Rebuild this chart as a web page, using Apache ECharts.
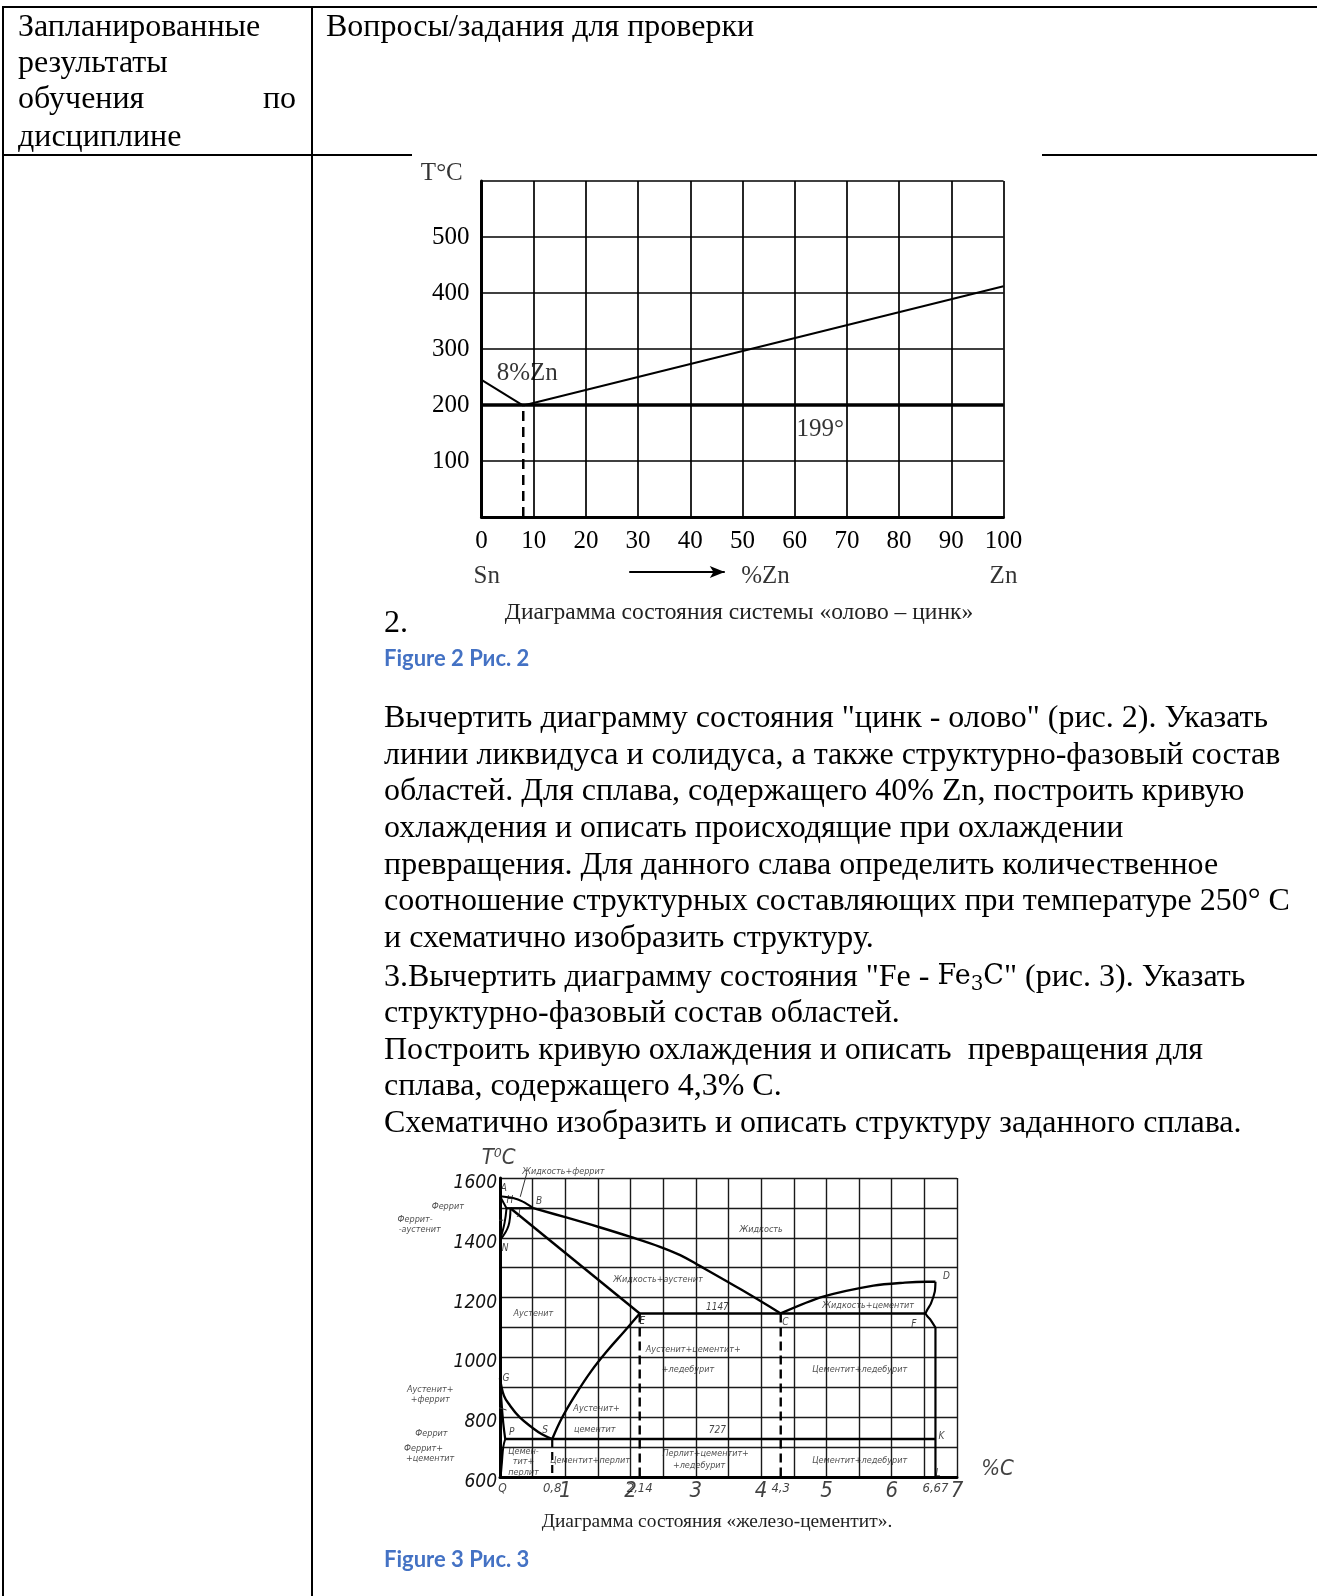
<!DOCTYPE html>
<html><head><meta charset="utf-8">
<script src="https://cdn.jsdelivr.net/npm/echarts@6/dist/echarts.min.js"></script>
<style>html,body{margin:0;padding:0;background:#fff}#c{width:1317px;height:1596px}</style>
</head><body><div id="c"></div>
<script>
// ---------- Sn–Zn diagram (рис. 2) ----------
const snZnXTicks = [0,10,20,30,40,50,60,70,80,90,100];
const snZnYTicks = [100,200,300,400,500];
const snZnLiquidusLeft  = [[0,245],[8,199]];
const snZnLiquidusRight = [[8,199],[100,412]];
const snZnEutectic      = [[0,200],[100,200]];
const snZnEutecticDash  = [[8,0],[8,199]];
const snZnArrow         = [[28.3,-98],[46.6,-98]];
const snZnLabels = [ // text, %Zn, T
  ['8%Zn', 8.75, 256], ['199°', 64.9, 156], ['T°C', -7.6, 614],
  ['Sn', 1.0, -107], ['%Zn', 54.4, -107], ['Zn', 100, -107]
];

// ---------- Fe–Fe3C diagram (рис. 3) ----------
const feXTickValues = [0.8,1,2,2.14,3,4,4.3,5,6,6.67,7];
const feXTickLabels = ['0,8','1','2','2,14','3','4','4,3','5','6','6,67','7'];
const feYTicks = [600,800,1000,1200,1400,1600];
const feAB  = [[0,1539],[0.2,1533],[0.35,1521],[0.51,1499]];
const feBC  = [[0.51,1499],[1.0,1469],[1.5,1437],[2.0,1403],[2.45,1370],[2.76,1342],[3.06,1306],[3.7,1226],[4.3,1147]];
const feCD  = [[4.3,1147],[4.95,1203],[5.72,1240],[6.2,1250],[6.53,1253],[6.67,1253]];
const feDF  = [[6.67,1253],[6.66,1220],[6.6,1180],[6.52,1147],[6.6,1124],[6.67,1100]];
const feFL  = [[6.67,1100],[6.67,600]];
const feAH  = [[0,1539],[0.1,1499]];
const feHB  = [[0.1,1499],[0.51,1499]];
const feHN  = [[0.1,1499],[0.07,1450],[0,1392]];
const feJN  = [[0.16,1499],[0.13,1440],[0,1392]];
const feJE  = [[0.16,1499],[2.14,1147]];
const feECF = [[2.14,1147],[6.52,1147]];
const feES  = [[2.14,1147],[1.9,1086],[1.65,1024],[1.4,955],[1.15,873],[0.95,798],[0.8,727]];
const feGS  = [[0,930],[0.06,872],[0.15,840],[0.3,800],[0.5,764],[0.65,742],[0.8,727]];
const feGP  = [[0,930],[0.02,860],[0.05,780],[0.08,727]];
const fePSK = [[0.08,727],[6.67,727]];
const fePQ  = [[0.08,727],[0.05,700],[0.03,650],[0.01,600]];
const feDashS = [[0.8,727],[0.8,600]];
const feDashE = [[2.14,1147],[2.14,600]];
const feDashC = [[4.3,1147],[4.3,600]];
const feLeaders = [
  [[0.41,1616],[0.31,1537]],
  [[-0.46,1504],[-0.03,1487]],
  [[-0.82,1454],[0.05,1459]],
  [[-0.59,869],[0.1,824]],
  [[-0.69,740],[-0.03,724]],
  [[-0.56,674],[-0.03,646]]
];
const feRegionLabels = [ // text, %C, T
  ['Жидкость+феррит',0.97,1622], ['Феррит',-0.8,1504], ['Феррит-',-1.3,1460], ['-аустенит',-1.23,1426],
  ['Жидкость',4.0,1428], ['Жидкость+аустенит',2.42,1261], ['Аустенит',0.51,1145],
  ['Аустенит+цементит+',2.96,1025], ['+ледебурит',2.88,958], ['Жидкость+цементит',5.64,1173],
  ['Цементит+ледебурит',5.51,960], ['Аустенит+',1.48,830], ['цементит',1.45,757],
  ['Аустенит+',-1.07,891], ['+феррит',-1.07,858], ['Феррит',-1.05,746],
  ['Феррит+',-1.17,696], ['+цементит',-1.07,663],
  ['Цемен-',0.36,685], ['тит+',0.36,652], ['перлит',0.36,615],
  ['Цементит+перлит',1.38,653], ['Перлит+цементит+',3.15,679], ['+ледебурит',3.05,638],
  ['Цементит+ледебурит',5.51,654]
];
const fePointLabels = [
  ['A',0.06,1566], ['H',0.15,1526], ['J',0.3,1484], ['B',0.6,1521], ['N',0.08,1365],
  ['E',2.18,1119], ['C',4.37,1116], ['D',6.84,1270], ['F',6.34,1112], ['G',0.09,930],
  ['P',0.18,749], ['S',0.69,755], ['K',6.76,735], ['L',6.71,612],
  ['1147',3.33,1166], ['727',3.33,757]
];
const feOriginLabel = [['Q',0.04,560]];

// ---------- page text ----------
const headerLeft = ['Запланированные','результаты','обучения','дисциплине'];
const headerRight = 'Вопросы/задания для проверки';
const bodyLines = [
  'Вычертить диаграмму состояния "цинк - олово" (рис. 2). Указать',
  'линии ликвидуса и солидуса, а также структурно-фазовый состав',
  'областей. Для сплава, содержащего 40% Zn, построить кривую',
  'охлаждения и описать происходящие при охлаждении',
  'превращения. Для данного слава определить количественное',
  'соотношение структурных составляющих при температуре 250° С',
  'и схематично изобразить структуру.',
  '3.Вычертить диаграмму состояния "Fe - {f|Fe}{s|3}{f|C}" (рис. 3). Указать',
  'структурно-фазовый состав областей.',
  'Построить кривую охлаждения и описать  превращения для',
  'сплава, содержащего 4,3% С.',
  'Схематично изобразить и описать структуру заданного сплава.'
];
const bodyY = [718.6,755.2,791.8,828.5,865.1,901.8,938.4,977.1,1013.7,1050.4,1087.0,1123.6];

const serif = '"Liberation Serif","Times New Roman",serif';
const hand = '"Liberation Sans Narrow","DejaVu Sans Condensed",sans-serif';
const tiny = '"DejaVu Sans Condensed","DejaVu Sans",sans-serif';

function line(data, gi, w, extra) {
  return Object.assign({type:'line', data, xAxisIndex:gi, yAxisIndex:gi, symbol:'none', silent:true,
    clip:false, animation:false, z:5, lineStyle:{color:'#000', width:w}}, extra || {});
}
function labels(list, gi, lbl) {
  return {type:'scatter', xAxisIndex:gi, yAxisIndex:gi, symbolSize:1, clip:false, silent:true, animation:false,
    itemStyle:{color:'transparent'}, z:6,
    data: list.map(([t,x,y]) => ({name:t, value:[x,y]})),
    label: Object.assign({show:true, position:'inside', formatter: p => p.name, color:'#000'}, lbl)};
}

const series = [
  line(snZnLiquidusLeft,0,2),
  line(snZnLiquidusRight,0,2),
  line(snZnEutectic,0,3.5),
  line(snZnEutecticDash,0,2.5,{lineStyle:{color:'#000',width:2.5,type:[10,6]}}),
  line(snZnArrow.map((p,i) => i === snZnArrow.length - 1
      ? {value:p, symbol:'arrow', symbolSize:[9,15], symbolRotate:-90}
      : {value:p}), 0, 2,
    {showSymbol:true, itemStyle:{color:'#000'}}),
  labels(snZnLabels,0,{fontFamily:serif, fontSize:25}),

  line(feAB,1,2.2,{smooth:0.3}), line(feBC,1,2.4,{smooth:0.4}), line(feCD,1,2.4,{smooth:0.3}),
  line(feDF,1,2.2,{smooth:0.2}), line(feFL,1,2.2), line(feAH,1,2),
  line(feHB,1,2.2), line(feHN,1,2,{smooth:0.4}), line(feJN,1,2,{smooth:0.4}),
  line(feJE,1,2.4), line(feECF,1,2.4), line(feES,1,2.4,{smooth:0.4}),
  line(feGS,1,2.4,{smooth:0.4}), line(feGP,1,2.2,{smooth:0.4}), line(fePSK,1,2.6),
  line(fePQ,1,2,{smooth:0.4}),
  line(feDashS,1,2.2,{lineStyle:{color:'#000',width:2.2,type:[8,5]}}),
  line(feDashE,1,2.4,{lineStyle:{color:'#000',width:2.4,type:[9,5]}}),
  line(feDashC,1,2.4,{lineStyle:{color:'#000',width:2.4,type:[9,5]}}),
  ...feLeaders.map(d => line(d,1,1,{lineStyle:{color:'#333',width:1}})),
  labels(feRegionLabels,1,{fontFamily:tiny, fontStyle:'italic', fontSize:9, color:'#222'}),
  labels(fePointLabels,1,{fontFamily:tiny, fontStyle:'italic', fontSize:10, color:'#111'}),
  labels(feOriginLabel,1,{fontFamily:tiny, fontStyle:'italic', fontSize:12, color:'#111'}),
  labels([['T⁰C',-0.02,1666],['%C',7.62,627]],1,{fontFamily:hand, fontStyle:'italic', fontSize:22, color:'#111'}),
  {type:'scatter', xAxisIndex:1, yAxisIndex:1, symbolSize:1, clip:false, silent:true, animation:false,
   itemStyle:{color:'transparent'}, z:6,
   data: feXTickValues.map((v,i) => {
     const major = Number.isInteger(v) && v > 0;
     return {name: feXTickLabels[i], value:[v,600],
       label:{fontSize: major ? 22 : 13, distance: major ? 3 : 5}};
   }),
   label:{show:true, position:'bottom', formatter:p=>p.name, fontFamily:hand, fontStyle:'italic', color:'#111'}}
];

const textEl = (t, x, y, font, extra) => ({type:'text', x, y, silent:true,
  style: Object.assign({text:t, font, fill:'#000', verticalAlign:'middle', align:'left'}, extra || {})});

const graphic = [
  {type:'line', shape:{x1:2,y1:7,x2:1317,y2:7}, style:{stroke:'#000', lineWidth:2}},
  {type:'line', shape:{x1:2,y1:155,x2:412,y2:155}, style:{stroke:'#000', lineWidth:2}},
  {type:'line', shape:{x1:1042,y1:155,x2:1317,y2:155}, style:{stroke:'#000', lineWidth:2}},
  {type:'line', shape:{x1:3,y1:6,x2:3,y2:1596}, style:{stroke:'#000', lineWidth:2}},
  {type:'line', shape:{x1:312,y1:6,x2:312,y2:1596}, style:{stroke:'#000', lineWidth:2}},
  textEl(headerLeft[0], 18, 27.5, '32px ' + serif),
  textEl(headerLeft[1], 18, 63.1, '32px ' + serif),
  textEl(headerLeft[2], 18, 99.7, '32px ' + serif),
  textEl('по', 296, 99.7, '32px ' + serif, {align:'right'}),
  textEl(headerLeft[3], 18, 137.4, '32px ' + serif),
  textEl(headerRight, 326, 27.5, '32px ' + serif),
  textEl('Диаграмма состояния системы «олово – цинк»', 739, 612.7, '23.5px ' + serif, {align:'center', fill:'#222'}),
  textEl('2.', 384, 624, '32px ' + serif),
  textEl('Figure 2 Рис. 2', 384, 658.5, 'bold 22px Lato,"Open Sans",sans-serif', {fill:'#4472C4'}),
  ...bodyLines.map((t,i) => textEl(t, 384, bodyY[i], '32px ' + serif,
      {lineHeight:36, rich:{
        f:{fontFamily:'"DejaVu Serif",serif', fontSize:27, lineHeight:36, verticalAlign:'middle', fill:'#000'},
        s:{fontFamily:'"DejaVu Serif",serif', fontSize:20, lineHeight:22, verticalAlign:'bottom', fill:'#000'}}})),
  textEl('Диаграмма состояния «железо-цементит».', 717, 1521.6, '19.4px ' + serif, {align:'center', fill:'#222'}),
  textEl('Figure 3 Рис. 3', 384, 1560.3, 'bold 22px Lato,"Open Sans",sans-serif', {fill:'#4472C4'})
];

const chart = echarts.init(document.getElementById('c'), null, {renderer:'canvas', width:1317, height:1596});
chart.setOption({
  backgroundColor:'#fff',
  animation:false,
  grid:[
    {left:481.5, top:181, width:522, height:336, outerBoundsMode:'none', containLabel:false},
    {left:500, top:1178, width:457, height:299, outerBoundsMode:'none', containLabel:false}
  ],
  xAxis:[
    {type:'value', gridIndex:0, min:0, max:100, interval:10,
     axisLine:{show:true, onZero:false, lineStyle:{color:'#000', width:3}}, axisTick:{show:false},
     splitLine:{show:true, showMinLine:true, showMaxLine:true, lineStyle:{color:'#000', width:1.7}},
     axisLabel:{show:true, margin:12, fontFamily:serif, fontSize:25, color:'#000',
       formatter: v => snZnXTicks.includes(v) ? String(v) : ''}},
    {type:'value', gridIndex:1, min:0, max:7, interval:0.5,
     axisLine:{show:true, onZero:false, lineStyle:{color:'#000', width:3}}, axisTick:{show:false},
     splitLine:{show:true, showMinLine:true, showMaxLine:true, lineStyle:{color:'#1a1a1a', width:1.4}},
     axisLabel:{show:false}}
  ],
  yAxis:[
    {type:'value', gridIndex:0, min:0, max:600, interval:100,
     axisLine:{show:true, onZero:false, lineStyle:{color:'#000', width:3}}, axisTick:{show:false},
     splitLine:{show:true, showMinLine:true, showMaxLine:true, lineStyle:{color:'#000', width:1.7}},
     axisLabel:{show:true, margin:12, fontFamily:serif, fontSize:25, color:'#000',
       formatter: v => snZnYTicks.includes(v) ? String(v) : ''}},
    {type:'value', gridIndex:1, min:600, max:1600, interval:100,
     axisLine:{show:true, onZero:false, lineStyle:{color:'#000', width:3}}, axisTick:{show:false},
     splitLine:{show:true, showMinLine:true, showMaxLine:true, lineStyle:{color:'#1a1a1a', width:1.4}},
     axisLabel:{show:true, margin:3, fontFamily:hand, fontStyle:'italic', fontSize:19, color:'#111',
       verticalAlign:'top', lineHeight:10, formatter: v => feYTicks.includes(v) ? String(v) : ''}}
  ],
  series,
  graphic
});
</script></body></html>
